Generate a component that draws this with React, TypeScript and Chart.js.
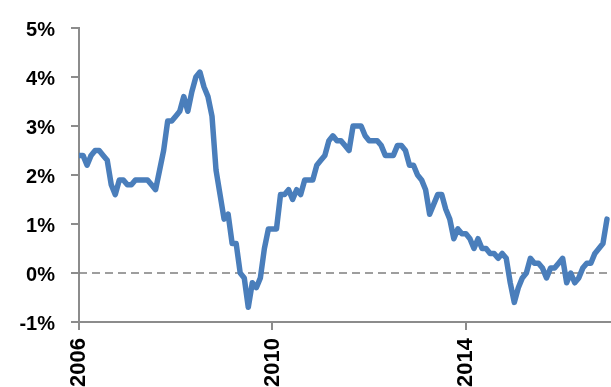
import React, { useEffect, useRef } from "react";
import { Chart, registerables } from "chart.js";

Chart.register(...registerables);

// Monthly year-on-year rate (%), January to December of each year
const rate2006 = [2.4, 2.4, 2.2, 2.4, 2.5, 2.5, 2.4, 2.3, 1.8, 1.6, 1.9, 1.9];
const rate2007 = [1.8, 1.8, 1.9, 1.9, 1.9, 1.9, 1.8, 1.7, 2.1, 2.5, 3.1, 3.1];
const rate2008 = [3.2, 3.3, 3.6, 3.3, 3.7, 4.0, 4.1, 3.8, 3.6, 3.2, 2.1, 1.6];
const rate2009 = [1.1, 1.2, 0.6, 0.6, 0.0, -0.1, -0.7, -0.2, -0.3, -0.1, 0.5, 0.9];
const rate2010 = [0.9, 0.9, 1.6, 1.6, 1.7, 1.5, 1.7, 1.6, 1.9, 1.9, 1.9, 2.2];
const rate2011 = [2.3, 2.4, 2.7, 2.8, 2.7, 2.7, 2.6, 2.5, 3.0, 3.0, 3.0, 2.8];
const rate2012 = [2.7, 2.7, 2.7, 2.6, 2.4, 2.4, 2.4, 2.6, 2.6, 2.5, 2.2, 2.2];
const rate2013 = [2.0, 1.9, 1.7, 1.2, 1.4, 1.6, 1.6, 1.3, 1.1, 0.7, 0.9, 0.8];
const rate2014 = [0.8, 0.7, 0.5, 0.7, 0.5, 0.5, 0.4, 0.4, 0.3, 0.4, 0.3, -0.2];
const rate2015 = [-0.6, -0.3, -0.1, 0.0, 0.3, 0.2, 0.2, 0.1, -0.1, 0.1, 0.1, 0.2];
const rate2016 = [0.3, -0.2, 0.0, -0.2, -0.1, 0.1, 0.2, 0.2, 0.4, 0.5, 0.6, 1.1];

const monthlyRates = [
  ...rate2006, ...rate2007, ...rate2008, ...rate2009, ...rate2010, ...rate2011,
  ...rate2012, ...rate2013, ...rate2014, ...rate2015, ...rate2016,
];

// Year labels on the time axis and the month index where each one sits
const yearLabels = ["2006", "2010", "2014"];
const yearTickMonths = [0, 48, 96];

const yTicks = [-1, 0, 1, 2, 3, 4, 5];

const FONT = "'Liberation Sans', Arial, sans-serif";
const AXIS_GREY = "#8c8c8c";

export default function App() {
  const canvasRef = useRef<HTMLCanvasElement | null>(null);

  useEffect(() => {
    const canvas = canvasRef.current;
    if (!canvas) return;

    const points = monthlyRates.map((v, i) => ({ x: i, y: v }));
    const lastX = monthlyRates.length;

    const chart = new Chart(canvas, {
      type: "line",
      data: {
        datasets: [
          {
            data: points,
            borderColor: "#4a7ebb",
            borderWidth: 5.5,
            pointRadius: 0,
            tension: 0,
            borderJoinStyle: "round",
            borderCapStyle: "round",
            order: 1,
          },
          {
            // dashed zero reference line
            data: [
              { x: 0, y: 0 },
              { x: lastX, y: 0 },
            ],
            borderColor: "#7f7f7f",
            borderWidth: 1.5,
            borderDash: [8, 5],
            pointRadius: 0,
            order: 2,
          },
        ],
      },
      options: {
        responsive: false,
        animation: false,
        devicePixelRatio: 1,
        layout: { padding: { top: 23, left: 0, right: 0, bottom: 0 } },
        plugins: {
          legend: { display: false },
          tooltip: { enabled: false },
        },
        scales: {
          x: {
            type: "linear",
            min: 0,
            max: lastX,
            afterBuildTicks: (scale: any) => {
              scale.ticks = yearTickMonths.map((v) => ({ value: v }));
            },
            afterFit: (scale: any) => {
              scale.height = 65;
            },
            ticks: {
              autoSkip: false,
              minRotation: 90,
              maxRotation: 90,
              padding: 8,
              color: "#000",
              font: { family: FONT, size: 22, weight: "bold" },
              callback: (value: any) => {
                const idx = yearTickMonths.indexOf(Number(value));
                return idx >= 0 ? yearLabels[idx] : "";
              },
            },
            grid: {
              drawOnChartArea: false,
              drawTicks: true,
              tickLength: 8,
              color: AXIS_GREY,
              lineWidth: 2,
            },
            border: { color: AXIS_GREY, width: 2 },
          },
          y: {
            min: -1,
            max: 5,
            afterBuildTicks: (scale: any) => {
              scale.ticks = yTicks.map((v) => ({ value: v }));
            },
            afterFit: (scale: any) => {
              scale.width = 79;
            },
            ticks: {
              padding: 16,
              labelOffset: 2,
              color: "#000",
              font: { family: FONT, size: 20, weight: "bold" },
              callback: (value: any) => `${value}%`,
            },
            grid: {
              drawOnChartArea: false,
              drawTicks: true,
              tickLength: 8,
              color: AXIS_GREY,
              lineWidth: 2,
            },
            border: { color: AXIS_GREY, width: 2 },
          },
        },
      },
    } as any);

    return () => chart.destroy();
  }, []);

  return (
    <div
      style={{
        position: "fixed",
        left: 0,
        top: 0,
        width: 611,
        height: 387,
        overflow: "hidden",
        background: "#fff",
      }}
    >
      <canvas ref={canvasRef} width={611} height={387} style={{ display: "block" }} />
    </div>
  );
}
